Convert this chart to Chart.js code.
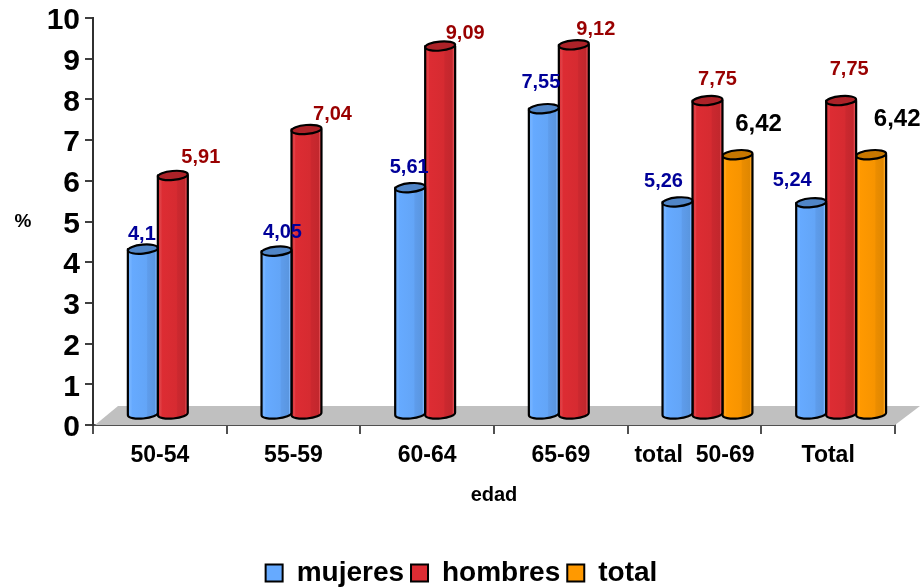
<!DOCTYPE html>
<html>
<head>
<meta charset="utf-8">
<style>
  html, body { margin: 0; padding: 0; background: #fff; }
  #chart-box { width: 923px; height: 588px; }
</style>
<script src="https://cdn.jsdelivr.net/npm/chart.js@4/dist/chart.umd.js"></script>
</head>
<body>
<div id="chart-box"><canvas id="prevalencia"></canvas></div>
<script>
const categories = ['50-54', '55-59', '60-64', '65-69', 'total  50-69', 'Total'];
const mujeres = [4.1, 4.05, 5.61, 7.55, 5.26, 5.24];
const hombres = [5.91, 7.04, 9.09, 9.12, 7.75, 7.75];
const total = [null, null, null, null, 6.42, 6.42];
const yTicks = [0, 1, 2, 3, 4, 5, 6, 7, 8, 9, 10];

// Where each value label sits relative to the top of its bar
const mujeresLabelShift = [[-1, -24], [6, -28], [-1, -29], [-3, -35], [-14, -29], [-19, -31]];
const hombresLabelShift = [[28, -27], [26, -24], [25, -22], [22, -24], [10, -30], [8, -40]];
const totalLabelShift = [null, null, null, null, [21, -39], [26, -44]];

const fontName = '"Liberation Sans", Arial, sans-serif';

// Bars stand in the middle of the floor depth
const depthX = 25;
const depthY = 19;
const barShiftX = 13;
const barShiftY = 9;

const color = Chart.helpers.color;
const toBlack = (c, keep) => color(c).mix(color('#000000'), keep).rgbString();
const toWhite = (c, keep) => color(c).mix(color('#ffffff'), keep).rgbString();

// Bars are drawn as cylinders instead of flat rectangles
Chart.BarElement.prototype.draw = function (ctx) {
    if (this.base - this.y < 1) return; // null values

    const bg = this.options.backgroundColor;
    const half = this.width / 2;
    const cx = this.x + barShiftX;
    const x0 = cx - half;
    const x1 = cx + half;
    const topY = this.y - barShiftY;
    const botY = this.base - 10;
    const tilt = -0.09;

    const shade = ctx.createLinearGradient(x0, 0, x1, 0);
    shade.addColorStop(0, bg);
    shade.addColorStop(0.1, toWhite(bg, 0.9));
    shade.addColorStop(0.14, bg);
    shade.addColorStop(0.62, toBlack(bg, 0.97));
    shade.addColorStop(0.66, toBlack(bg, 0.92));
    shade.addColorStop(0.9, toBlack(bg, 0.88));
    shade.addColorStop(0.94, toWhite(bg, 0.85));
    shade.addColorStop(1, toBlack(bg, 0.88));

    ctx.save();
    ctx.lineWidth = 2.2;
    ctx.lineJoin = 'round';
    ctx.strokeStyle = this.options.borderColor;

    ctx.beginPath();
    ctx.moveTo(x0, topY);
    ctx.lineTo(x0, botY);
    ctx.ellipse(cx, botY, half, 4.5, tilt, Math.PI, 0, true);
    ctx.lineTo(x1, topY);
    ctx.closePath();
    ctx.fillStyle = shade;
    ctx.fill();
    ctx.stroke();

    ctx.beginPath();
    ctx.ellipse(cx, topY, half, 4.5, tilt, 0, Math.PI * 2);
    ctx.fillStyle = toBlack(bg, 0.78);
    ctx.fill();
    ctx.stroke();
    ctx.restore();
};

// Grey floor under the bars
const floorPlugin = {
    id: 'floor',
    beforeDatasetsDraw(chart) {
        const { ctx, chartArea } = chart;
        ctx.save();
        ctx.beginPath();
        ctx.moveTo(chartArea.left + 2, chartArea.bottom);
        ctx.lineTo(chartArea.left + depthX, chartArea.bottom - depthY);
        ctx.lineTo(chartArea.right + depthX, chartArea.bottom - depthY);
        ctx.lineTo(chartArea.right, chartArea.bottom);
        ctx.closePath();
        ctx.fillStyle = '#c0c0c0';
        ctx.fill();
        ctx.restore();
    }
};

// Value labels next to the bars, and the horizontal % on the y axis
const labelsPlugin = {
    id: 'valueLabels',
    afterDatasetsDraw(chart) {
        const { ctx, chartArea } = chart;
        ctx.save();
        ctx.textAlign = 'center';
        ctx.textBaseline = 'middle';
        chart.data.datasets.forEach((dataset, d) => {
            chart.getDatasetMeta(d).data.forEach((bar, i) => {
                const value = dataset.data[i];
                if (value === null) return;
                const shift = dataset.labelShift[i];
                ctx.font = `bold ${dataset.labelSize}px ${fontName}`;
                ctx.fillStyle = dataset.labelColor;
                ctx.fillText(String(value).replace('.', ','), bar.x + barShiftX + shift[0], bar.y + shift[1]);
            });
        });
        ctx.font = `bold 19px ${fontName}`;
        ctx.fillStyle = '#000';
        ctx.fillText('%', 23, (chartArea.top + chartArea.bottom) / 2);
        ctx.restore();
    }
};

const series = [
    { label: 'mujeres', data: mujeres, backgroundColor: '#66aaff', labelColor: '#000099', labelSize: 20, labelShift: mujeresLabelShift },
    { label: 'hombres', data: hombres, backgroundColor: '#dd2c33', labelColor: '#990000', labelSize: 20, labelShift: hombresLabelShift },
    { label: 'total', data: total, backgroundColor: '#ff9900', labelColor: '#000000', labelSize: 24, labelShift: totalLabelShift }
];

new Chart(document.getElementById('prevalencia'), {
    type: 'bar',
    data: {
        labels: categories,
        datasets: series.map(s => ({ ...s, borderColor: '#000', borderWidth: 2, clip: false }))
    },
    options: {
        responsive: true,
        maintainAspectRatio: false,
        animation: false,
        layout: { padding: { top: 18, right: 28, bottom: -9, left: 28 } },
        datasets: { bar: { categoryPercentage: 0.673, barPercentage: 1 } },
        plugins: {
            tooltip: { enabled: false },
            legend: {
                position: 'bottom',
                labels: {
                    color: '#000',
                    boxWidth: 17,
                    boxHeight: 17,
                    padding: 7,
                    font: { family: fontName, weight: 'bold', size: 28 }
                }
            }
        },
        scales: {
            x: {
                afterFit(scale) { scale.height = 127; },
                grid: { offset: true, drawOnChartArea: false, tickLength: 9, color: '#505050', lineWidth: 2 },
                border: { color: '#505050', width: 2 },
                ticks: {
                    autoSkip: false,
                    maxRotation: 0,
                    padding: 8,
                    color: '#000',
                    font: { family: fontName, weight: 'bold', size: 23 }
                },
                title: {
                    display: true,
                    text: 'edad',
                    color: '#000',
                    font: { family: fontName, weight: 'bold', size: 20 },
                    padding: { top: 0, bottom: 45 }
                }
            },
            y: {
                min: 0,
                max: 10,
                afterFit(scale) {
                    scale.width = 65;
                    scale.paddingTop = 0;
                    scale.paddingBottom = 0;
                },
                afterBuildTicks(scale) { scale.ticks = yTicks.map(value => ({ value })); },
                grid: { drawOnChartArea: false, tickLength: 8, color: '#404040', lineWidth: 2 },
                border: { color: '#303030', width: 2 },
                ticks: {
                    padding: 5,
                    labelOffset: 3,
                    color: '#000',
                    font: { family: fontName, weight: 'bold', size: 30 }
                }
            }
        }
    },
    plugins: [floorPlugin, labelsPlugin]
});
</script>
</body>
</html>
